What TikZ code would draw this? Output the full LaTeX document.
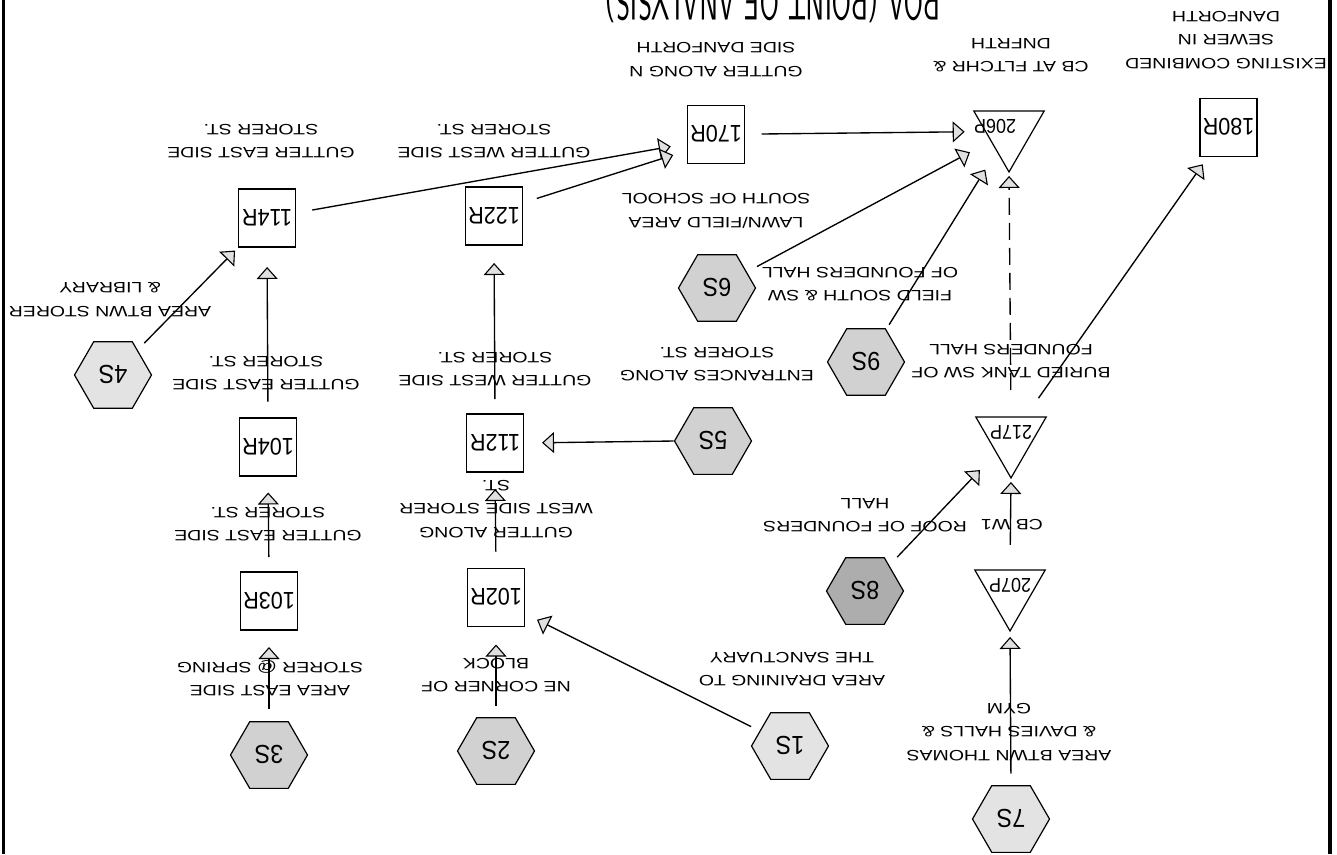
\documentclass[tikz,border=0pt]{standalone}
\usepackage{fontspec}
\setmainfont{Liberation Sans}
\newfontfamily\lblfont[FakeStretch=1.3]{Liberation Sans}
\newfontfamily\idfont[FakeStretch=0.9]{Liberation Sans}
\usetikzlibrary{shapes.geometric,arrows.meta}
% #1 text, #2 font size, #3 twice the x shift, #4 raise
\newcommand{\idtxt}[4]{\makebox[0pt]{\hspace*{#3}\raisebox{#4}[0pt][0pt]{\rotatebox{180}{\idfont\fontsize{#2}{#2}\selectfont #1}}}}
\newcommand{\hexid}[1]{\idtxt{#1}{26pt}{0pt}{9.4pt}}
\newcommand{\sqid}[1]{\idtxt{#1}{24pt}{0pt}{8.6pt}}
\tikzset{
  shp/.style={draw, line width=1.2pt, inner sep=0pt, outer sep=0pt},
  hexa/.style={shp, regular polygon, regular polygon sides=6, minimum size=77pt, fill=black!11},
  hexb/.style={hexa, fill=black!18},
  hexc/.style={hexa, fill=black!32},
  sq/.style={shp, rectangle, minimum width=57pt, minimum height=58pt, fill=white},
  tri/.style={shp, regular polygon, regular polygon sides=3, shape border rotate=180, minimum size=81.3pt, fill=white},
  lbl/.style={rotate=180, align=center, inner sep=0pt, font=\lblfont\fontsize{15pt}{23.5pt}\selectfont},
  flow/.style={line width=1.35pt, -{Triangle[length=12pt,width=21pt,fill=black!12,line width=1.1pt]}},
  dashflow/.style={flow, dash pattern=on 17pt off 8pt}
}
\begin{document}
\begin{tikzpicture}[x=1pt,y=-1pt]
\useasboundingbox (0,0) rectangle (1337,854);
\fill[white] (0,0) rectangle (1337,854);
% page edges
\draw[line width=3pt] (3.5,0) -- (3.5,854);
\draw[line width=3.5pt] (1330,0) -- (1330,854);
% handwritten title (upside down, cut at top)
\node[rotate=180, anchor=base, inner sep=0pt, font=\sffamily] (title) at (773,-16)
  {\scalebox{0.88}[1.6]{\fontsize{32pt}{32pt}\selectfont POA (POINT OF ANALYSIS)}};

% subcatchments (hexagons)
\node[hexa] (h7) at (1011,819) {\hexid{7S}};
\node[hexa] (h1) at (790,746) {\hexid{1S}};
\node[hexb] (h2) at (496,751) {\hexid{2S}};
\node[hexb] (h3) at (269,755) {\hexid{3S}};
\node[hexc] (h8) at (865,591) {\hexid{8S}};
\node[hexb] (h5) at (713,441) {\hexid{5S}};
\node[hexb] (h9) at (866,362) {\hexid{9S}};
\node[hexb] (h6) at (717,288) {\hexid{6S}};
\node[hexa] (h4) at (113,375) {\hexid{4S}};

% reaches (squares)
\node[sq] (r103) at (269,601) {\sqid{103R}};
\node[sq] (r102) at (496,597.5) {\sqid{102R}};
\node[sq] (r104) at (268,447) {\sqid{104R}};
\node[sq] (r112) at (495,443) {\sqid{112R}};
\node[sq] (r114) at (267,218) {\sqid{114R}};
\node[sq] (r122) at (494,216) {\sqid{122R}};
\node[sq] (r170) at (716,134.5) {\sqid{170R}};
\node[sq] (r180) at (1228.5,127.5) {\sqid{180R}};

% ponds (triangles)
\node[tri] (t207) at (1010,590.3) {\idtxt{207P}{20pt}{0pt}{12.2pt}};
\node[tri] (t217) at (1011,437.3) {\idtxt{217P}{20pt}{0pt}{12.2pt}};
\node[tri] (t206) at (1009,131.3) {\idtxt{206P}{20pt}{-28pt}{12.2pt}};

% labels
\node[lbl] (l180) at (1226,40) {EXISTING COMBINED\\SEWER IN\\DANFORTH};
\node[lbl] (l206) at (1011,55) {CB AT FLTCHR \&\\DNFRTH};
\node[lbl] (l170) at (716,59.5) {GUTTER ALONG N\\SIDE DANFORTH};
\node[lbl] (l114) at (261,141) {GUTTER EAST SIDE\\STORER ST.};
\node[lbl] (l122) at (494,141) {GUTTER WEST SIDE\\STORER ST.};
\node[lbl] (l6) at (716,211) {LAWN/FIELD AREA\\SOUTH OF SCHOOL};
\node[lbl] (l4) at (110,299.5) {AREA BTWN STORER\\\& LIBRARY};
\node[lbl] (l9) at (860,284) {FIELD SOUTH \& SW\\OF FOUNDERS HALL};
\node[lbl] (l104) at (266,373) {GUTTER EAST SIDE\\STORER ST.};
\node[lbl] (l112) at (495,369) {GUTTER WEST SIDE\\STORER ST.};
\node[lbl] (l5) at (717,364) {ENTRANCES ALONG\\STORER ST.};
\node[lbl] (l217) at (1011,361) {BURIED TANK SW OF\\FOUNDERS HALL};
\node[lbl] (l8) at (865,515) {ROOF OF FOUNDERS\\HALL};
\node[lbl] (lcb) at (1012,525) {CB W1};
\node[lbl] (l102) at (496,509) {GUTTER ALONG\\WEST SIDE STORER\\ST.};
\node[lbl] (l103) at (268,524) {GUTTER EAST SIDE\\STORER ST.};
\node[lbl] (l3) at (270,678) {AREA EAST SIDE\\STORER @ SPRING};
\node[lbl] (l2) at (496,675) {NE CORNER OF\\BLOCK};
\node[lbl] (l1) at (792,669) {AREA DRAINING TO\\THE SANCTUARY};
\node[lbl] (l7) at (1009,732) {AREA BTWN THOMAS\\\& DAVIES HALLS \&\\GYM};

% connectors
\draw[flow, shorten <=13pt, shorten >=17pt] (h3.north) -- (r103.south);
\draw[flow, shorten <=12pt, shorten >=18pt] (h2.north) -- (r102.south);
\draw[flow, shorten <=10pt, shorten >=14pt] (h1) -- ([yshift=-16pt]r102.east);
\draw[flow, shorten <=15pt, shorten >=16.5pt] (r103.north) -- (r104.south);
\draw[flow, shorten <=16.5pt, shorten >=20pt] (r104.north) -- (r114.south);
\draw[flow, shorten <=17pt, shorten >=17pt] (r102.north) -- (r112.south);
\draw[flow, shorten <=15pt, shorten >=18pt] (r112.north) -- (r122.south);
\draw[flow, shorten <=1pt, shorten >=18.5pt] (h5.west) -- (r112.east);
\draw[flow, shorten <=10pt, shorten >=5pt] (h4) -- (r114);
\draw[flow, shorten <=17pt, shorten >=17pt] ([yshift=5pt]r114.east) -- ([yshift=-9pt]r170.west);
\draw[flow, shorten <=15pt, shorten >=15pt] ([yshift=13pt]r122.east) -- ([yshift=-16pt]r170.west);
\draw[flow, shorten <=17pt, shorten >=21pt] (r170) -- (t206);
\draw[flow, shorten <=12pt, shorten >=24pt] (h6) -- (t206);
\draw[flow, shorten <=6pt, shorten >=22pt] (h9) -- (t206);
\draw[flow, shorten <=12pt, shorten >=6pt] (h7.north) -- (t207.south);
\draw[flow, shorten <=25pt, shorten >=4pt] (t207.north) -- (t217.south);
\draw[flow, shorten <=12pt, shorten >=24pt] (h8) -- (t217);
\draw[dashflow, shorten <=27pt, shorten >=4pt] (t217.north) -- (t206.south);
\draw[flow, shorten <=23pt, shorten >=9.5pt] (t217) -- (r180);
\end{tikzpicture}
\end{document}
